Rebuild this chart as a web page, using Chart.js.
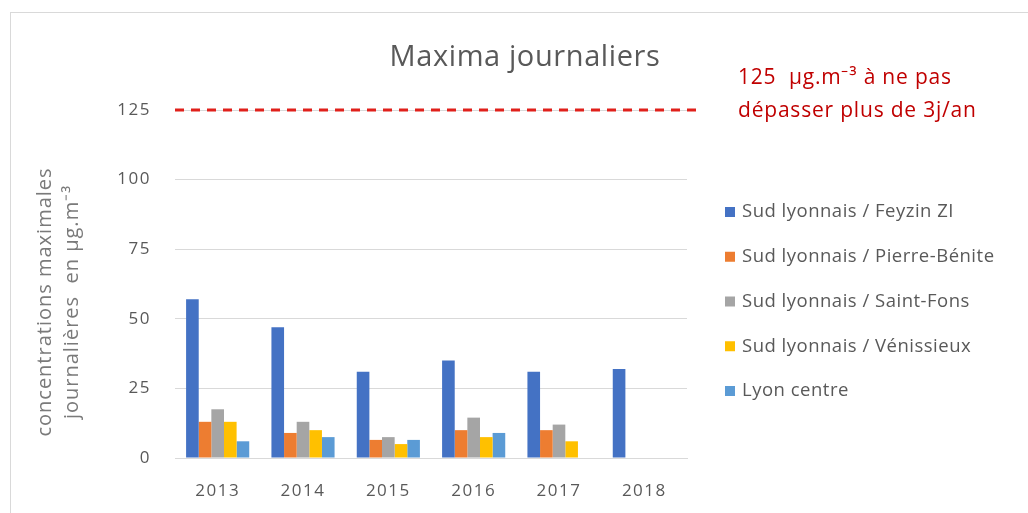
<!DOCTYPE html>
<html>
<head>
<meta charset="utf-8">
<script src="https://cdn.jsdelivr.net/npm/chart.js@4/dist/chart.umd.min.js"></script>
<style>
  html, body { margin: 0; padding: 0; background: #fff; }
  #wrap { position: relative; width: 1028px; height: 513px; }
</style>
</head>
<body>
<div id="wrap"><canvas id="chart"></canvas></div>
<script>
// ===== Data =====
const years = ['2013', '2014', '2015', '2016', '2017', '2018'];
const seriesNames = [
  'Sud lyonnais / Feyzin ZI',
  'Sud lyonnais / Pierre-Bénite',
  'Sud lyonnais / Saint-Fons',
  'Sud lyonnais / Vénissieux',
  'Lyon centre',
];
const feyzin = [57, 47, 31, 35, 31, 32];
const pierreBenite = [13, 9, 6.5, 10, 10, null];
const saintFons = [17.5, 13, 7.5, 14.5, 12, null];
const venissieux = [13, 10, 5, 7.5, 6, null];
const lyonCentre = [6, 7.5, 6.5, 9, null, null];
const yTicks = [0, 25, 50, 75, 100, 125];
const threshold = 125;
const thresholdText = ['125  µg.m⁻³ à ne pas', 'dépasser plus de 3j/an'];
const yTitle = ['concentrations maximales', 'journalières  en µg.m⁻³'];
const chartTitle = 'Maxima journaliers';

const COLORS = ['#4472C4', '#ED7D31', '#A5A5A5', '#FFC000', '#5B9BD5'];
const TEXT = '#595959';
const FONT = "'Open Sans', sans-serif";

// ===== Extras drawn around the plot =====
const extrasPlugin = {
  id: 'extras',
  beforeDraw(chart) {
    const { ctx } = chart;
    // Excel-like loose letter spacing for axis labels
    ctx.letterSpacing = '1.5px';
    // outer frame
    ctx.save();
    ctx.strokeStyle = '#d9d9d9';
    ctx.lineWidth = 1;
    ctx.strokeRect(10.5, 12.5, 1200, 600);
    ctx.restore();
  },
  afterDatasetsDraw(chart) {
    const { ctx, chartArea, scales } = chart;
    const y = scales.y.getPixelForValue(threshold);

    // threshold line
    ctx.save();
    ctx.strokeStyle = '#E0201B';
    ctx.lineWidth = 3;
    ctx.setLineDash([9, 7]);
    ctx.beginPath();
    ctx.moveTo(chartArea.left, y);
    ctx.lineTo(chartArea.right + 15, y);
    ctx.stroke();
    ctx.restore();

    ctx.save();
    // title
    ctx.letterSpacing = '0.6px';
    ctx.fillStyle = TEXT;
    ctx.font = '29px ' + FONT;
    ctx.textAlign = 'center';
    ctx.textBaseline = 'middle';
    ctx.fillText(chartTitle, 525, 58);

    // threshold label
    ctx.letterSpacing = '0.8px';
    ctx.fillStyle = '#C00000';
    ctx.font = '21px ' + FONT;
    ctx.textAlign = 'left';
    ctx.fillText(thresholdText[0], 738, 78);
    ctx.fillText(thresholdText[1], 738, 111);

    // y axis title
    ctx.letterSpacing = '1px';
    ctx.fillStyle = '#7a7a7a';
    ctx.font = '20px ' + FONT;
    ctx.textAlign = 'center';
    ctx.translate(45, 302);
    ctx.rotate(-Math.PI / 2);
    ctx.fillText(yTitle[0], 0, 0);
    ctx.fillText(yTitle[1], 0, 27);
    ctx.restore();

    // legend
    ctx.save();
    ctx.letterSpacing = '0.5px';
    ctx.font = '18.5px ' + FONT;
    ctx.textAlign = 'left';
    ctx.textBaseline = 'middle';
    chart.data.datasets.forEach((ds, i) => {
      const ly = 212 + i * 44.75;
      ctx.fillStyle = ds.backgroundColor;
      ctx.fillRect(725, ly - 5, 10, 10);
      ctx.fillStyle = TEXT;
      ctx.fillText(ds.label, 742, ly);
    });
    ctx.restore();
  },
};

const seriesData = [feyzin, pierreBenite, saintFons, venissieux, lyonCentre];

new Chart(document.getElementById('chart'), {
  type: 'bar',
  data: {
    labels: years,
    datasets: seriesData.map((d, i) => ({
      label: seriesNames[i],
      data: d,
      backgroundColor: COLORS[i],
      categoryPercentage: 0.74,
      barPercentage: 1.0,
    })),
  },
  options: {
    responsive: true,
    maintainAspectRatio: false,
    animation: false,
    layout: { padding: { left: 0, right: 341, top: 110, bottom: 0 } },
    plugins: {
      legend: { display: false },
      tooltip: { enabled: false },
    },
    scales: {
      x: {
        grid: { display: false, drawTicks: false },
        border: { color: '#d9d9d9' },
        ticks: { color: TEXT, font: { family: FONT, size: 17 }, padding: 23 },
        afterFit: (s) => { s.height = 55; },
      },
      y: {
        min: 0,
        max: 125,
        afterBuildTicks: (s) => { s.ticks = yTicks.map((v) => ({ value: v })); },
        grid: { color: '#d9d9d9', drawTicks: false },
        border: { display: false },
        ticks: { color: TEXT, font: { family: FONT, size: 17 }, padding: 24 },
        afterFit: (s) => { s.width = 175; },
      },
    },
  },
  plugins: [extrasPlugin],
});
</script>
</body>
</html>
